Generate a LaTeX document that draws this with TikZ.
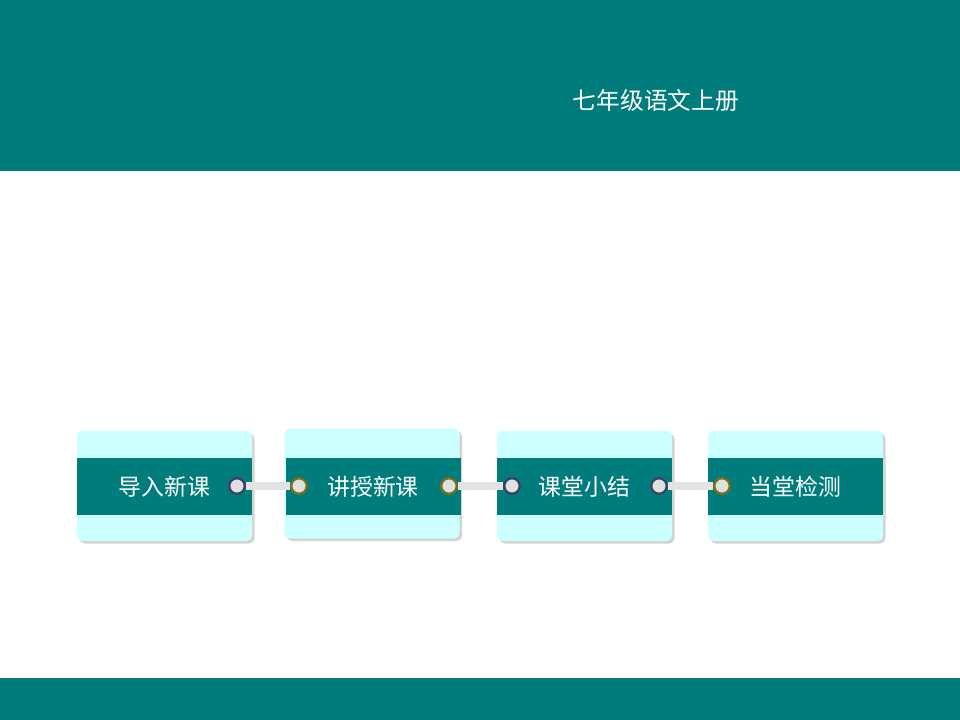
\documentclass[tikz,border=0pt]{standalone}
\usepackage{fontspec}
\setmainfont{Noto Sans CJK SC}
\usepackage{xcolor}
\usepackage{tikz}
\usetikzlibrary{positioning,shadows}

\definecolor{deepteal}{RGB}{0,124,124}
\definecolor{paleaqua}{RGB}{204,255,255}
\definecolor{navyring}{RGB}{58,66,98}
\definecolor{oliveing}{RGB}{122,112,24}

\begin{document}
\begin{tikzpicture}
[x=0.2mm, y=-0.2mm, font=\fontsize{13}{15}\selectfont,
    card/.style={rectangle, rounded corners=3pt, fill=paleaqua,
    minimum width=35mm, minimum height=22mm,
    drop shadow={shadow xshift=0.5mm, shadow yshift=-0.5mm, opacity=0.35}},
    band/.style={rectangle, fill=deepteal, text=white,
    minimum width=35mm, minimum height=11.4mm},
    ring/.style={circle, fill=black!12, line width=1.3pt,
    minimum size=3.1mm, inner sep=0pt},
    link/.style={draw=black!11, line width=1.6mm}
    ]
    \useasboundingbox (0,0) rectangle (960,720);

    % banners
    \fill[deepteal] (0,0) rectangle (960,171);
    \fill[deepteal] (0,678) rectangle (960,720);
    \node[text=white, font=\fontsize{13.5}{16}\selectfont] (title) at (656,100) {七年级语文上册};

    % cards
    \node[card] (c1) at (164.5,486) {};
    \node[card] (c2) at (372,483.5) {};
    \node[card] (c3) at (584.5,486) {};
    \node[card] (c4) at (795.5,486) {};

    \node[band] (b1) at (164.5,486.5) {导入新课};
    \node[band] (b2) at (373,486.5) {讲授新课};
    \node[band] (b3) at (584.5,486.5) {课堂小结};
    \node[band] (b4) at (795.5,486.5) {当堂检测};

    % rings
    \node[ring, draw=navyring] (r1) at (237,486) {};
    \node[ring, draw=oliveing] (l2) at (299,486) {};
    \node[ring, draw=oliveing] (r2) at (449,486) {};
    \node[ring, draw=navyring] (l3) at (512,486) {};
    \node[ring, draw=navyring] (r3) at (659,486) {};
    \node[ring, draw=oliveing] (l4) at (722,486) {};

    % links
    \draw[link] (r1) -- (l2);
    \draw[link] (r2) -- (l3);
    \draw[link] (r3) -- (l4);
\end{tikzpicture}
\end{document}
